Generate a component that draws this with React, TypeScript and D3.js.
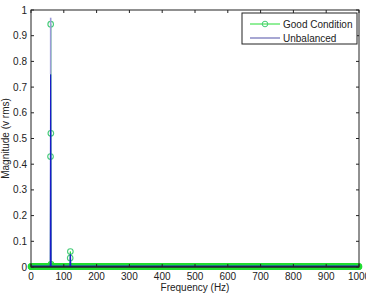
import React from "react";
import * as d3 from "d3";

const xTicks = [0, 100, 200, 300, 400, 500, 600, 700, 800, 900, 1000];
const yTicks = [0, 0.1, 0.2, 0.3, 0.4, 0.5, 0.6, 0.7, 0.8, 0.9, 1];

// Good condition spectrum: peak bins (freq Hz, magnitude); all other bins ~0
const goodPeakFreqs = [59.5, 60, 60.5, 61, 119.5, 120];
const goodPeakVals = [0.43, 0.945, 0.52, 0.01, 0.035, 0.06];
const goodFloor = 0.002;
const goodStep = 1;

// Unbalanced spectrum
const unbalFreqs = [0, 59, 60, 60.2, 61, 119, 120, 121, 1000];
const unbalVals = [0.003, 0.003, 0.75, 0.97, 0.003, 0.003, 0.05, 0.003, 0.003];

const W = 366, H = 294;
const L = 31, R = 359, T = 10, B = 267;

export default function App() {
  const x = d3.scaleLinear().domain([0, 1000]).range([L, R]);
  const y = d3.scaleLinear().domain([0, 1]).range([B, T]);

  const grid = d3.range(0, 1000 + goodStep, goodStep);
  const goodPts: [number, number][] = [];
  grid.forEach((f) => {
    if (f === 60 || f === 120) return;
    goodPts.push([f, goodFloor]);
  });
  goodPeakFreqs.forEach((f, i) => goodPts.push([f, goodPeakVals[i]]));
  goodPts.sort((a, b) => a[0] - b[0]);

  const line = d3
    .line<[number, number]>()
    .x((d) => x(d[0]))
    .y((d) => y(d[1]));

  const unbalPts: [number, number][] = unbalFreqs.map((f, i) => [f, unbalVals[i]]);
  const unbalMain = unbalPts.filter((d) => d[1] <= 0.8);
  const spikeTop = unbalPts.find((d) => d[1] > 0.8)!;
  const spikeBase = unbalPts.find((d) => d[1] > 0.5 && d[1] <= 0.8)!;

  const green = "#22dd33";
  const blue = "#1a1acc";
  const font = "'Liberation Sans', Arial, sans-serif";

  return (
    <svg width={W} height={H} style={{ position: "absolute", left: 0, top: 0, background: "#fff" }}>
      <rect x={0} y={0} width={W} height={H} fill="#fff" />
      {/* green good condition line + markers */}
      <path d={line(goodPts) || ""} fill="none" stroke={green} strokeWidth={1} />
      {goodPts.map((d, i) => (
        <circle key={i} cx={x(d[0])} cy={y(d[1])} r={2.8} fill="none" stroke={d[1] > 0.02 ? "#44cc77" : green} strokeWidth={1.1} />
      ))}
      {/* unbalanced */}
      <path d={line(unbalMain) || ""} fill="none" stroke={blue} strokeWidth={1.3} />
      <line x1={x(spikeBase[0])} x2={x(spikeBase[0])} y1={y(spikeBase[1])} y2={y(spikeTop[1])} stroke="#9a9ad8" strokeWidth={1.6} />
      {/* axes frame */}
      <rect x={L} y={T} width={R - L} height={B - T} fill="none" stroke="#222" strokeWidth={1} />
      <line x1={L} x2={R} y1={B} y2={B} stroke="#222" strokeWidth={1} />
      {xTicks.map((t) => (
        <g key={"x" + t}>
          <line x1={x(t)} x2={x(t)} y1={B} y2={B - 3} stroke="#222" />
          <line x1={x(t)} x2={x(t)} y1={T} y2={T + 3} stroke="#222" />
          <text x={x(t)} y={B + 13} textAnchor="middle" fontSize={10} fontFamily={font} fill="#222">
            {t}
          </text>
        </g>
      ))}
      {yTicks.map((t) => (
        <g key={"y" + t}>
          <line x1={L} x2={L + 3} y1={y(t)} y2={y(t)} stroke="#222" />
          <line x1={R} x2={R - 3} y1={y(t)} y2={y(t)} stroke="#222" />
          <text x={L - 4} y={y(t) + 3.5} textAnchor="end" fontSize={10} fontFamily={font} fill="#222">
            {t}
          </text>
        </g>
      ))}
      <text x={(L + R) / 2} y={291} textAnchor="middle" fontSize={10} fontFamily={font} fill="#222">
        Frequency (Hz)
      </text>
      <text transform={`translate(9,${(T + B) / 2}) rotate(-90)`} textAnchor="middle" fontSize={10} fontFamily={font} fill="#222">
        Magnitude (v rms)
      </text>
      {/* legend */}
      <rect x={242} y={13} width={115} height={31} fill="#fff" stroke="#222" strokeWidth={1} />
      <line x1={250} x2={280} y1={24} y2={24} stroke={green} />
      <circle cx={265} cy={24} r={2.8} fill="none" stroke="#44cc77" />
      <text x={283} y={28} fontSize={10} fontFamily={font} fill="#222">Good Condition</text>
      <line x1={250} x2={280} y1={38} y2={38} stroke="#7777bb" strokeWidth={1.3} />
      <text x={283} y={42} fontSize={10} fontFamily={font} fill="#222">Unbalanced</text>
    </svg>
  );
}
